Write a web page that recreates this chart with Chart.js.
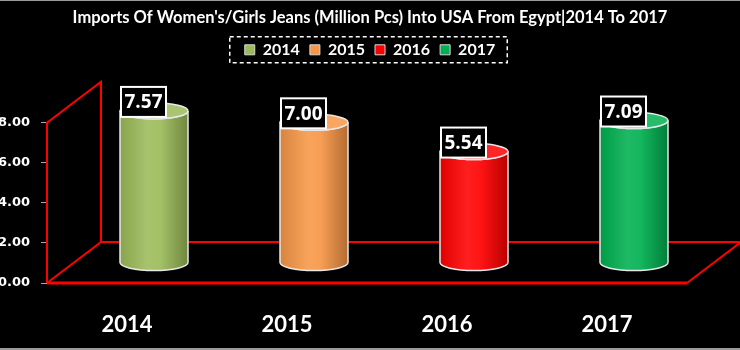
<!DOCTYPE html>
<html>
<head>
<meta charset="utf-8">
<title>Imports Of Women's/Girls Jeans From Egypt</title>
<script src="https://cdn.jsdelivr.net/npm/chart.js@4.4.1/dist/chart.umd.min.js"></script>
<style>
  html, body { margin: 0; padding: 0; background: #000; }
  #wrap { width: 740px; height: 350px; position: relative; }
</style>
</head>
<body>
<div id="wrap"><canvas id="importsChart"></canvas></div>
<script>
// chart data
const years = ['2014', '2015', '2016', '2017'];
const importsMillionPcs = [7.57, 7.00, 5.54, 7.09];
const yTickValues = [0, 2, 4, 6, 8];
const titleText = "Imports Of Women's/Girls Jeans (Million Pcs) Into USA From Egypt|2014 To 2017";

// styles
const barColors = ['#9BBB59', '#F79646', '#FF0000', '#00B050'];
const depthX = 54, depthY = 41;
const labelFont = 'Lato, "Open Sans", sans-serif';

function shade(hex, amt) {
    const n = parseInt(hex.slice(1), 16);
    let r = n >> 16, g = (n >> 8) & 255, b = n & 255;
    const f = c => Math.round(amt < 0 ? c * (1 + amt) : c + (255 - c) * amt);
    return `rgb(${f(r)}, ${f(g)}, ${f(b)})`;
}

// red 3d frame (side wall + floor)
const frame3d = {
    id: 'frame3d',
    beforeDatasetsDraw(chart) {
        const {ctx, chartArea, scales} = chart;
        const left = chartArea.left, right = chartArea.right;
        const bottom = scales.y.getPixelForValue(0);
        const top = scales.y.getPixelForValue(8);
        ctx.save();
        ctx.strokeStyle = '#FF0000';
        ctx.lineWidth = 2;
        ctx.beginPath();
        // side wall
        ctx.moveTo(left, bottom);
        ctx.lineTo(left, top);
        ctx.lineTo(left + depthX, top - depthY);
        ctx.lineTo(left + depthX, bottom - depthY);
        ctx.lineTo(left, bottom);
        // floor
        ctx.moveTo(left + depthX, bottom - depthY);
        ctx.lineTo(right + depthX, bottom - depthY);
        ctx.lineTo(right, bottom);
        ctx.stroke();
        ctx.lineWidth = 3;
        ctx.beginPath();
        ctx.moveTo(left, bottom);
        ctx.lineTo(right, bottom);
        ctx.stroke();
        ctx.restore();
    }
};

// cylinders + value boxes
const cylinders = {
    id: 'cylinders',
    afterDatasetsDraw(chart) {
        const {ctx, scales} = chart;
        const meta = chart.getDatasetMeta(0);
        const rx = 34, ry = 8;
        meta.data.forEach((bar, i) => {
            const color = barColors[i];
            const cx = bar.x + depthX / 2;
            const base = scales.y.getPixelForValue(0) - depthY / 2;
            const topY = bar.y - depthY / 2;

            ctx.save();
            const grad = ctx.createLinearGradient(cx - rx, 0, cx + rx, 0);
            grad.addColorStop(0, shade(color, -0.12));
            grad.addColorStop(0.4, shade(color, 0.12));
            grad.addColorStop(0.6, shade(color, 0.08));
            grad.addColorStop(1, shade(color, -0.28));

            ctx.beginPath();
            ctx.moveTo(cx - rx, topY);
            ctx.lineTo(cx - rx, base);
            ctx.ellipse(cx, base, rx, ry, 0, Math.PI, 0, true);
            ctx.lineTo(cx + rx, topY);
            ctx.ellipse(cx, topY, rx, ry, 0, 0, Math.PI, false);
            ctx.closePath();
            ctx.fillStyle = grad;
            ctx.fill();
            ctx.strokeStyle = '#e8e8e8';
            ctx.lineWidth = 1.5;
            ctx.stroke();

            ctx.beginPath();
            ctx.ellipse(cx, topY, rx, ry, 0, 0, Math.PI * 2);
            ctx.fillStyle = shade(color, 0.15);
            ctx.fill();
            ctx.stroke();

            // value label box
            const bw = 45, bh = 30;
            const bx = cx - 33, by = topY + 6 - bh;
            ctx.fillStyle = '#000';
            ctx.fillRect(bx, by, bw, bh);
            ctx.strokeStyle = '#fff';
            ctx.lineWidth = 2;
            ctx.strokeRect(bx, by, bw, bh);
            ctx.fillStyle = '#fff';
            ctx.font = 'bold 19px "Open Sans", sans-serif';
            ctx.textAlign = 'center';
            ctx.textBaseline = 'middle';
            ctx.fillText(importsMillionPcs[i].toFixed(2), bx + bw / 2, by + bh / 2 + 1);
            ctx.restore();
        });
    }
};

// legend height + dashed border + image frame lines
const legendBox = {
    id: 'legendBox',
    beforeLayout(chart) {
        const lg = chart.legend;
        if (lg && !lg._patched) {
            const fit = lg.fit;
            lg.fit = function () {
                fit.call(this);
                this.height = 91;
            };
            lg._patched = true;
        }
    },
    afterDraw(chart) {
        const {ctx} = chart;
        const boxes = chart.legend.legendHitBoxes;
        if (boxes && boxes.length) {
            const x0 = Math.min(...boxes.map(b => b.left)) - 15;
            const x1 = Math.max(...boxes.map(b => b.left + b.width)) + 12;
            const cy = boxes[0].top + boxes[0].height / 2;
            ctx.save();
            ctx.strokeStyle = '#fff';
            ctx.lineWidth = 1.5;
            ctx.setLineDash([4, 3]);
            ctx.strokeRect(x0, cy - 13, x1 - x0, 26);
            ctx.restore();
        }
        ctx.save();
        ctx.fillStyle = '#9a9a9a';
        ctx.fillRect(0, 0, chart.width, 1);
        ctx.fillRect(0, chart.height - 2, chart.width, 2);
        ctx.restore();
    }
};

function initializeChart() {
    const ctx = document.getElementById('importsChart');
    if (!ctx) {
        console.error('Cannot find chart canvas');
        return;
    }

    new Chart(ctx, {
        type: 'bar',
        data: {
            labels: years,
            datasets: [{
                label: 'Imports (Million Pcs)',
                data: importsMillionPcs,
                backgroundColor: 'rgba(0,0,0,0)',
                borderWidth: 0
            }]
        },
        options: {
            responsive: true,
            maintainAspectRatio: false,
            animation: false,
            layout: { padding: { left: 0, right: 0, top: 0, bottom: 12 } },
            plugins: {
                title: {
                    display: true,
                    text: titleText,
                    color: '#fff',
                    font: { family: labelFont, size: 16.5, weight: 'bold' },
                    padding: { top: 8, bottom: 4 }
                },
                legend: {
                    display: true,
                    position: 'top',
                    labels: {
                        boxWidth: 10,
                        boxHeight: 10,
                        padding: 10,
                        color: '#fff',
                        font: { family: labelFont, size: 16, weight: 'bold' },
                        generateLabels: () => years.map((y, i) => ({
                            text: y,
                            fillStyle: barColors[i],
                            strokeStyle: '#d9d9d9',
                            lineWidth: 1,
                            fontColor: '#fff',
                            index: i
                        }))
                    },
                    onClick: null
                },
                tooltip: { enabled: false }
            },
            scales: {
                x: {
                    grid: { display: false, drawTicks: false },
                    border: { display: false },
                    afterFit: axis => { axis.height = 55; },
                    ticks: {
                        color: '#fff',
                        padding: 29,
                        font: { family: labelFont, size: 22, weight: 'bold' }
                    }
                },
                y: {
                    min: 0,
                    max: 8,
                    afterBuildTicks: axis => { axis.ticks = yTickValues.map(v => ({ value: v })); },
                    afterFit: axis => { axis.width = 47; },
                    grid: { drawOnChartArea: false, drawTicks: true, tickLength: 6, color: '#a6a6a6' },
                    border: { display: false },
                    ticks: {
                        color: '#fff',
                        padding: 11,
                        font: { family: '"DejaVu Sans", sans-serif', size: 13, weight: 'bold' },
                        callback: v => Number(v).toFixed(2)
                    }
                },
                // empty right axis: reserves the space for the floor's depth
                yDepth: {
                    position: 'right',
                    display: true,
                    min: 0,
                    max: 8,
                    afterFit: axis => { axis.width = 53; },
                    grid: { display: false, drawTicks: false },
                    border: { display: false },
                    ticks: { display: false }
                }
            }
        },
        plugins: [frame3d, cylinders, legendBox]
    });
}

document.addEventListener('DOMContentLoaded', initializeChart);
</script>
</body>
</html>
